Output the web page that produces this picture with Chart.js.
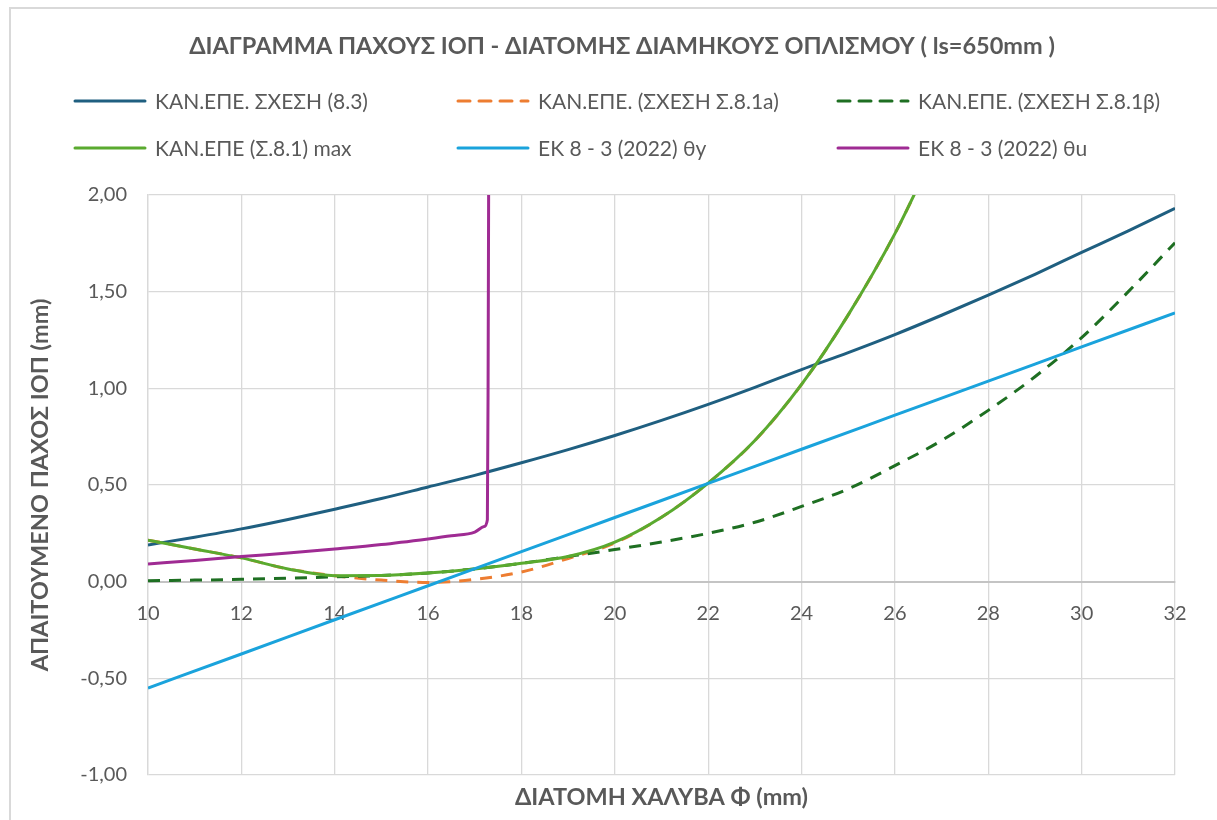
<!DOCTYPE html>
<html>
<head>
<meta charset="utf-8">
<script src="https://cdn.jsdelivr.net/npm/chart.js@4.4.1/dist/chart.umd.min.js"></script>
<style>
  html, body { margin: 0; padding: 0; background: #fff; }
  #wrap { width: 1217px; height: 820px; }
</style>
</head>
<body>
<div id="wrap"><canvas id="ropChart"></canvas></div>
<script>
// diameters Φ (mm)
const diam = [10, 11, 12, 13, 14, 15, 16, 17, 18, 19, 20, 21, 22, 23, 24, 25, 26, 27, 28, 29, 30, 31, 32];
const diamShort = [10, 11, 12, 13, 14, 15, 16, 17, 18, 19, 20, 21, 22, 23, 24, 25, 26, 27];
const diamEven = [10, 12, 14, 16, 18, 20, 22, 24, 26, 28, 30, 32];
const diamTheta = [10, 11, 12, 13, 14, 15, 16, 16.5, 17, 17.2, 17.27, 17.285, 17.3];

// required jacket thickness (mm)
const eq83 = [0.19, 0.23, 0.273, 0.322, 0.375, 0.43, 0.49, 0.55, 0.615, 0.683, 0.756, 0.834, 0.917, 1.005, 1.097, 1.185, 1.278, 1.378, 1.482, 1.59, 1.703, 1.815, 1.931];
const eq81a = [0.215, 0.169, 0.123, 0.066, 0.031, 0.008, -0.004, 0.012, 0.05, 0.12, 0.20, 0.333, 0.51, 0.73, 1.02, 1.38, 1.80, 2.3];
const eq81b = [0.005, 0.008, 0.012, 0.018, 0.025, 0.032, 0.045, 0.066, 0.095, 0.13, 0.166, 0.205, 0.25, 0.307, 0.389, 0.48, 0.60, 0.73, 0.886, 1.06, 1.262, 1.5, 1.753];
const eq81max = [0.215, 0.169, 0.123, 0.066, 0.031, 0.032, 0.045, 0.066, 0.095, 0.13, 0.204, 0.333, 0.51, 0.73, 1.02, 1.38, 1.80, 2.3];
const ecThetaY = [-0.55, -0.374, -0.197, -0.021, 0.155, 0.332, 0.508, 0.685, 0.861, 1.037, 1.214, 1.39];
const ecThetaU = [0.092, 0.11, 0.13, 0.148, 0.169, 0.192, 0.221, 0.237, 0.256, 0.285, 0.32, 1.0, 2.3];

const seriesNames = [
  "ΚΑΝ.ΕΠΕ. ΣΧΕΣΗ (8.3)",
  "ΚΑΝ.ΕΠΕ. (ΣΧΕΣΗ Σ.8.1a)",
  "ΚΑΝ.ΕΠΕ. (ΣΧΕΣΗ Σ.8.1β)",
  "ΚΑΝ.ΕΠΕ (Σ.8.1) max",
  "ΕΚ 8 - 3 (2022) θy",
  "ΕΚ 8 - 3 (2022) θu"
];
const seriesColors = ["#1f5f80", "#ed7d31", "#1e6f22", "#5aaa2f", "#1aa3dc", "#9f2b93"];
const seriesDash = [[], [12, 9], [12, 9], [], [], []];

const TXT = "#595959";
const FONT = "Lato, 'Open Sans', sans-serif";

function pts(xs, ys) {
  return xs.map((x, i) => ({ x: x, y: ys[i] }));
}

const seriesData = [
  pts(diam, eq83),
  pts(diamShort, eq81a),
  pts(diam, eq81b),
  pts(diamShort, eq81max),
  pts(diamEven, ecThetaY),
  pts(diamTheta, ecThetaU)
];

// title, legend grid, axis titles and chart frame
const decorPlugin = {
  id: "decor",
  beforeDraw(chart) {
    const c = chart.ctx;
    c.save();
    c.strokeStyle = "#d9d9d9";
    c.lineWidth = 2;
    c.strokeRect(10, 8, 1300, 900);
    c.restore();
  },
  afterDraw(chart) {
    const c = chart.ctx;
    const area = chart.chartArea;
    c.save();
    c.fillStyle = TXT;
    c.textBaseline = "middle";
    c.textAlign = "center";
    c.font = "bold 23.5px " + FONT;
    c.fillText("ΔΙΑΓΡΑΜΜΑ ΠΑΧΟΥΣ ΙΟΠ - ΔΙΑΤΟΜΗΣ ΔΙΑΜΗΚΟΥΣ ΟΠΛΙΣΜΟΥ ( ls=650mm )", 622, 46);

    // x axis title
    c.fillText("ΔΙΑΤΟΜΗ ΧΑΛΥΒΑ Φ (mm)", (area.left + area.right) / 2, 797);

    // y axis title
    c.save();
    c.translate(40, (area.top + area.bottom) / 2);
    c.rotate(-Math.PI / 2);
    c.fillText("ΑΠΑΙΤΟΥΜΕΝΟ ΠΑΧΟΣ ΙΟΠ (mm)", 0, 0);
    c.restore();

    // legend, 3 columns x 2 rows
    const colX = [75, 458, 838];
    const rowY = [101, 148];
    c.font = "21px " + FONT;
    c.textAlign = "left";
    seriesNames.forEach((name, i) => {
      const x = colX[i % 3];
      const y = rowY[Math.floor(i / 3)];
      c.beginPath();
      c.strokeStyle = seriesColors[i];
      c.lineWidth = 3;
      c.lineCap = "round";
      c.setLineDash(seriesDash[i]);
      c.moveTo(x, y);
      c.lineTo(x + 70, y);
      c.stroke();
      c.setLineDash([]);
      c.fillStyle = TXT;
      c.fillText(name, x + 80, y + 1);
    });
    c.restore();
  }
};

const datasets = seriesNames.map((name, i) => ({
  label: name,
  data: seriesData[i],
  borderColor: seriesColors[i],
  backgroundColor: seriesColors[i],
  borderWidth: 3,
  borderDash: seriesDash[i],
  pointRadius: 0,
  fill: false,
  cubicInterpolationMode: "monotone",
  order: seriesNames.length - i
}));

new Chart(document.getElementById("ropChart"), {
  type: "line",
  data: { datasets: datasets },
  plugins: [decorPlugin],
  options: {
    responsive: true,
    maintainAspectRatio: false,
    animation: false,
    layout: { padding: { left: 10, right: 42, top: 195, bottom: 45 } },
    plugins: {
      legend: { display: false },
      tooltip: { enabled: false }
    },
    scales: {
      x: {
        type: "linear",
        position: { y: 0 },
        min: 10,
        max: 32,
        ticks: {
          stepSize: 2,
          padding: 20,
          color: TXT,
          font: { family: FONT, size: 20 }
        },
        grid: { color: "#d9d9d9", lineWidth: 1.3, drawTicks: false },
        border: { color: "#c4c4c4", width: 2 }
      },
      y: {
        min: -1,
        max: 2,
        afterFit(scale) { scale.width = 138; },
        ticks: {
          stepSize: 0.5,
          padding: 21,
          color: TXT,
          font: { family: FONT, size: 20 },
          callback: v => v.toFixed(2).replace(".", ",")
        },
        grid: { color: "#d9d9d9", lineWidth: 1.3, drawTicks: false },
        border: { color: "#d9d9d9", width: 1.3 }
      }
    }
  }
});
</script>
</body>
</html>
